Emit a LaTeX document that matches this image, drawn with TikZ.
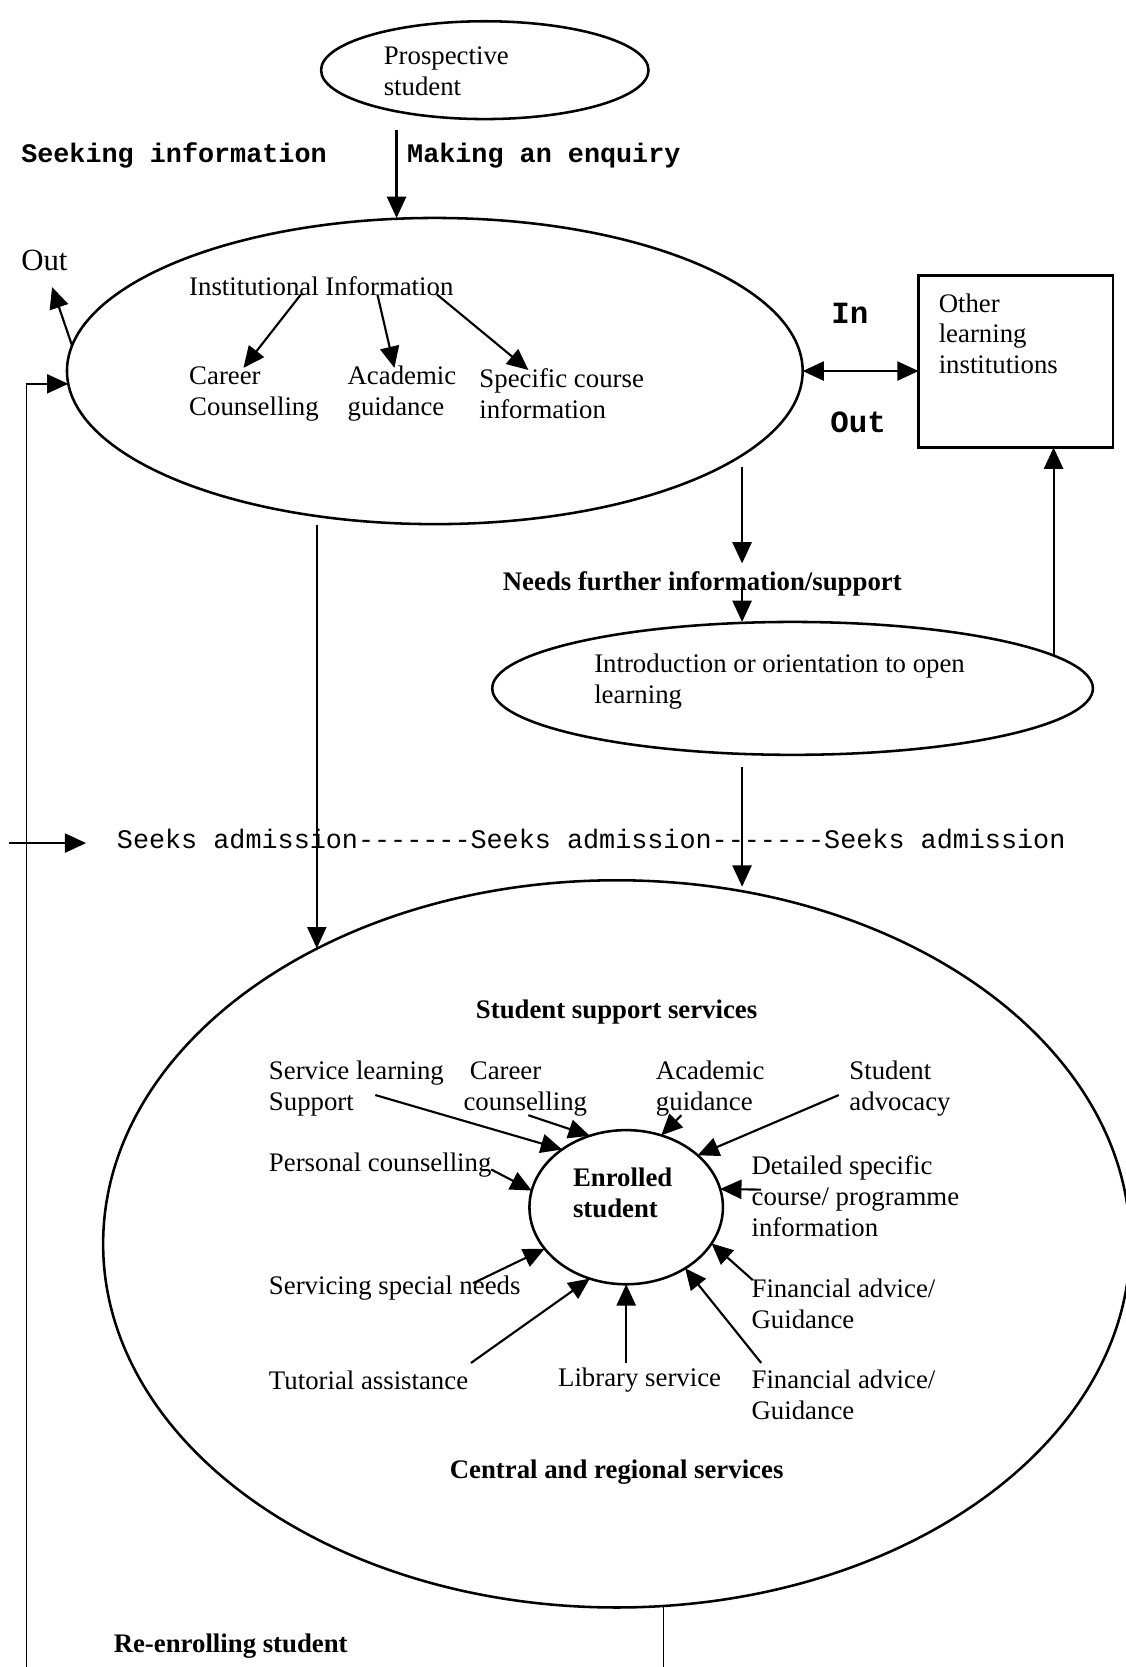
\documentclass[tikz,border=0pt]{standalone}
\usepackage{fontspec}
\setmainfont{Liberation Serif}
\setmonofont{Liberation Mono}
\usetikzlibrary{arrows.meta,shapes.geometric}

\begin{document}
\begin{tikzpicture}[x=0.5pt,y=-0.5pt,
  every node/.style={inner sep=0pt,outer sep=0pt},
  txt/.style={font=\fontsize{12.6}{14.5}\selectfont,align=left,anchor=west},
  bigtxt/.style={font=\fontsize{14.5}{16}\selectfont,anchor=west},
  btxt/.style={font=\fontsize{12.6}{14.5}\selectfont\bfseries,align=left},
  mono/.style={font=\fontsize{12.6}{14.5}\selectfont\ttfamily\bfseries,anchor=west},
  bigmono/.style={font=\fontsize{14.5}{16}\selectfont\ttfamily\bfseries,anchor=west},
  plainmono/.style={font=\fontsize{12.6}{14.5}\selectfont\ttfamily,anchor=west},
  oval/.style={draw,ellipse,line width=1.2pt},
  arr/.style={-{Triangle[length=10pt,width=9pt]},line width=1pt},
  darr/.style={{Triangle[length=10pt,width=9pt]}-{Triangle[length=10pt,width=9pt]},line width=1pt},
  link/.style={line width=0.8pt}
]
\fill[white] (0,0) rectangle (1059,1568);
\useasboundingbox (0,0) rectangle (1059,1568);

% ---- outlines ----
\node[oval,minimum width=154pt,minimum height=46pt] (pros) at (456,66) {};
\node[oval,minimum width=346pt,minimum height=144pt] (inst) at (409,349) {};
\node[draw,line width=1.2pt,minimum width=91.5pt,minimum height=81pt] (other) at (955.5,340) {};
\node[oval,minimum width=282.5pt,minimum height=62.5pt] (intro) at (745.5,647.5) {};
\node[oval,minimum width=483pt,minimum height=342pt] (big) at (580,1170) {};
\node[oval,minimum width=91pt,minimum height=72.5pt] (enr) at (589,1135.5) {};

% ---- texts ----
\node[txt] (prostxt) at (361,67) {Prospective\\student};
\node[mono] (seek) at (20,146) {Seeking information};
\node[mono] (enq) at (383,146) {Making an enquiry};
\node[bigtxt] (outl) at (20,245) {Out};
\node[txt] (insttxt) at (178,269) {Institutional Information};
\node[txt] (career) at (178,370.5) {Career\\Counselling};
\node[txt] (acad) at (327,370.5) {Academic\\guidance};
\node[txt] (spec) at (451,370.5) {Specific course\\information};
\node[bigmono] (inl) at (782,295) {In};
\node[bigmono] (outr) at (781,397) {Out};
\node[txt] (othertxt) at (883,314) {Other\\learning\\institutions};
\node[btxt,anchor=west] (need) at (473,549) {Needs further information/support};
\node[txt] (introtxt) at (559,641) {Introduction or orientation to open\\learning};
\node[plainmono] (seeks) at (110,789) {Seeks admission-------Seeks admission-------Seeks admission};
\node[btxt] (sss) at (580,952) {Student support services};
\node[txt] (slt) at (253,1024) {Service learning\\Support};
\node[txt] (cct) at (436,1024) {\hspace*{3pt}Career\\counselling};
\node[txt] (agt) at (617,1024) {Academic\\guidance};
\node[txt] (sat) at (799,1024) {Student\\advocacy};
\node[txt] (pct) at (253,1096) {Personal counselling};
\node[btxt,anchor=west] (enrtxt) at (539,1122) {Enrolled\\student};
\node[txt] (dst) at (707,1125) {Detailed specific\\course/ programme\\information};
\node[txt] (sst) at (253,1212) {Servicing special needs};
\node[txt] (fat1) at (707,1226) {Financial advice/\\Guidance};
\node[txt] (tat) at (253,1298) {Tutorial assistance};
\node[txt] (lst) at (525,1298) {Library service};
\node[txt] (fat2) at (707,1312) {Financial advice/\\Guidance};
\node[btxt] (crs) at (580,1385) {Central and regional services};
\node[btxt,anchor=west] (reen) at (107,1548) {Re-enrolling student};

% ---- connector ends ----
\coordinate (p0) at (373,122);
\coordinate (outtip) at (49,270);
\coordinate (loop0) at (25,1568);
\coordinate (sa0) at (8,793);
\coordinate (sa1) at (81,793);
\coordinate (n0) at (698,439);
\coordinate (n1) at (698,530);
\coordinate (n2) at (698,552);
\coordinate (u0) at (991,617);
\coordinate (d0) at (698,721);
\coordinate (d1) at (698,834);
\coordinate (l0) at (298,494);
\coordinate (l1) at (298,892);
\coordinate (r0) at (624,1511);
\coordinate (r1) at (624,1568);
\coordinate (i0) at (283,277);
\coordinate (i1) at (229,346);
\coordinate (i2) at (355,277);
\coordinate (i3) at (371,346);
\coordinate (i4) at (411,277);
\coordinate (i5) at (497,348);
\coordinate (sl0) at (353,1030);
\coordinate (cc0) at (497,1049);
\coordinate (ag0) at (641,1049);
\coordinate (sa2) at (789,1030);
\coordinate (pc0) at (462,1100);
\coordinate (ds0) at (716,1119);
\coordinate (ss0) at (445,1207);
\coordinate (ta0) at (443,1282);
\coordinate (ls0) at (589,1282);
\coordinate (f20) at (716,1282);
\coordinate (f10) at (708,1204);

% ---- connectors ----
\draw[arr] (p0) -- (p0 |- inst.north);
\draw[arr] (inst.176) -- (outtip);
\draw[arr,link] (loop0) |- (inst.182);
\draw[arr] (sa0) -- (sa1);
\draw[darr] (inst.east) -- (inst.east -| other.west);
\draw[arr] (n0) -- (n1);
\draw[arr] (n2) -- (n2 |- intro.north);
\draw[arr] (u0) -- (u0 |- other.south);
\draw[arr] (d0) -- (d1);
\draw[arr,link] (l0) -- (l1);
\draw[link] (r0) -- (r1);
\draw[arr] (i0) -- (i1);
\draw[arr] (i2) -- (i3);
\draw[arr] (i4) -- (i5);
\draw[arr] (sl0) -- (enr.138);
\draw[arr] (cc0) -- (enr.117);
\draw[arr] (ag0) -- (enr.64);
\draw[arr] (sa2) -- (enr.36);
\draw[arr] (pc0) -- (enr.170);
\draw[arr] (ds0) -- (enr.11);
\draw[arr] (ss0) -- (enr.207);
\draw[arr] (ta0) -- (enr.243);
\draw[arr] (ls0) -- (enr.270);
\draw[arr] (f20) -- (enr.314);
\draw[arr] (f10) -- (enr.337);
\end{tikzpicture}
\end{document}
